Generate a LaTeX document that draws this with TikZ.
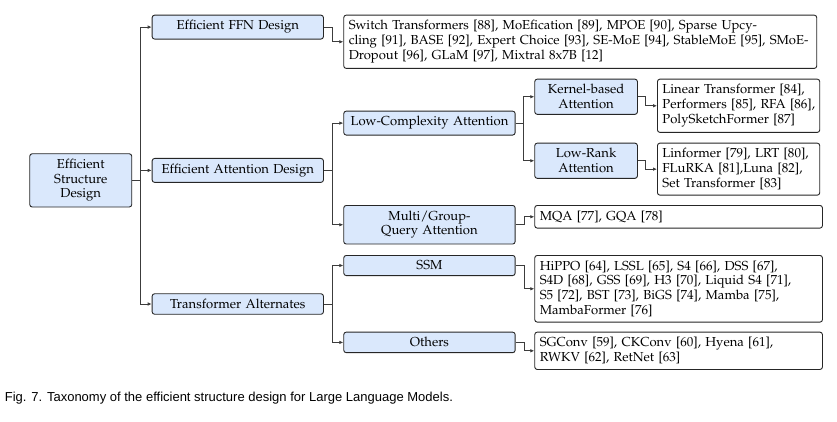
\documentclass[tikz,border=0pt]{standalone}
\usepackage[T1,TU]{fontenc}
\usepackage{fontspec}
\newfontfamily\capfont{Liberation Sans}
\usetikzlibrary{arrows.meta}
\newcommand\palfont{\fontencoding{T1}\fontfamily{ppl}\fontseries{m}\fontshape{n}\fontsize{13.05}{14.67}\selectfont}
\newcommand\oneline[1]{\mbox{#1}}
\definecolor{catblue}{RGB}{218,232,252}
\definecolor{edgegray}{RGB}{60,60,60}
\tikzset{
  box/.style={draw=black!85, line width=0.9pt, rounded corners=2.5pt, inner xsep=5pt, inner ysep=5.4pt, font=\palfont, anchor=north west},
  cat/.style={box, fill=catblue, align=center},
  leaf/.style={box, fill=white, align=left},
  conn/.style={draw=edgegray, line width=1pt, -{Latex[length=4pt,width=3.6pt]}},
}
\begin{document}
\begin{tikzpicture}[x=1pt,y=-1pt]
\useasboundingbox (0,0) rectangle (837,422);
% categories
\node[cat, text width=92pt]    (root) at (29.3,153.3) {Efficient\\Structure\\Design};
\node[cat, text width=161.3pt] (ffn)  at (151.7,14.7) {Efficient FFN Design};
\node[cat, text width=161.3pt] (att)  at (151.7,158) {Efficient Attention Design};
\node[cat, text width=161.3pt] (ta)   at (151.7,293.3) {Transformer Alternates};
\node[cat, text width=161.4pt] (lca)  at (343.3,110.7) {Low-Complexity Attention};
\node[cat, text width=161.4pt] (mg)   at (343.3,205) {Multi/Group-\\Query Attention};
\node[cat, text width=161.4pt] (ssm)  at (343.3,255) {SSM};
\node[cat, text width=161.4pt] (oth)  at (343.3,331.7) {Others};
\node[cat, text width=92.7pt]  (kb)   at (534.3,78.7) {Kernel-based\\Attention};
\node[cat, text width=92.7pt]  (lr)   at (534.3,142.7) {Low-Rank\\Attention};
% leaves
\node[leaf, text width=463pt] (ffnl) at (343.3,14.7) {\oneline{Switch Transformers [88], MoEfication [89], MPOE [90], Sparse Upcy-}\\\oneline{cling [91], BASE [92], Expert Choice [93], SE-MoE [94], StableMoE [95], SMoE-}\\\oneline{Dropout [96], GLaM [97], Mixtral 8x7B [12]}};
\node[leaf, text width=152.3pt] (kbl) at (657,78.7) {\oneline{Linear Transformer [84],}\\\oneline{Performers [85], RFA [86],}\\\oneline{PolySketchFormer [87]}};
\node[leaf, text width=152.3pt] (lrl) at (657,142.7) {\oneline{Linformer [79], LRT [80],}\\\oneline{FLuRKA [81],Luna [82],}\\\oneline{Set Transformer [83]}};
\node[leaf, text width=277.7pt] (mgl) at (534.3,205) {MQA [77], GQA [78]};
\node[leaf, text width=277.7pt] (ssml) at (534.3,255) {\oneline{HiPPO [64], LSSL [65], S4 [66], DSS [67],}\\\oneline{S4D [68], GSS [69], H3 [70], Liquid S4 [71],}\\\oneline{S5 [72], BST [73], BiGS [74], Mamba [75],}\\\oneline{MambaFormer [76]}};
\node[leaf, text width=277.7pt] (othl) at (534.3,331.7) {\oneline{SGConv [59], CKConv [60], Hyena [61],}\\\oneline{RWKV [62], RetNet [63]}};
% connectors
\draw[conn] (root.east) -- ++(8.7,0) |- (ffn.west);
\draw[conn] (root.east) -- ++(8.7,0) |- (att.west);
\draw[conn] (root.east) -- ++(8.7,0) |- (ta.west);
\draw[conn] (ffn.east) -- ++(8.7,0) |- (ffnl.west);
\draw[conn] (att.east) -- ++(8.7,0) |- (lca.west);
\draw[conn] (att.east) -- ++(8.7,0) |- (mg.west);
\draw[conn] (ta.east) -- ++(8.7,0) |- (ssm.west);
\draw[conn] (ta.east) -- ++(8.7,0) |- (oth.west);
\draw[conn] (lca.east) -- ++(7.6,0) |- (kb.west);
\draw[conn] (lca.east) -- ++(7.6,0) |- (lr.west);
\draw[conn] (kb.east) -- ++(7.3,0) |- (kbl.west);
\draw[conn] (lr.east) -- ++(7.3,0) |- (lrl.west);
\draw[conn] (mg.east) -- ++(8.6,0) |- (mgl.west);
\draw[conn] (ssm.east) -- ++(8.6,0) |- (ssml.west);
\draw[conn] (oth.east) -- ++(8.6,0) |- (othl.west);
% caption
\node[anchor=base west, inner sep=0pt, font=\capfont\fontsize{13}{15}\selectfont] (cap) at (4.7,401.7) {Fig. 7. Taxonomy of the efficient structure design for Large Language Models.};
\end{tikzpicture}
\end{document}
